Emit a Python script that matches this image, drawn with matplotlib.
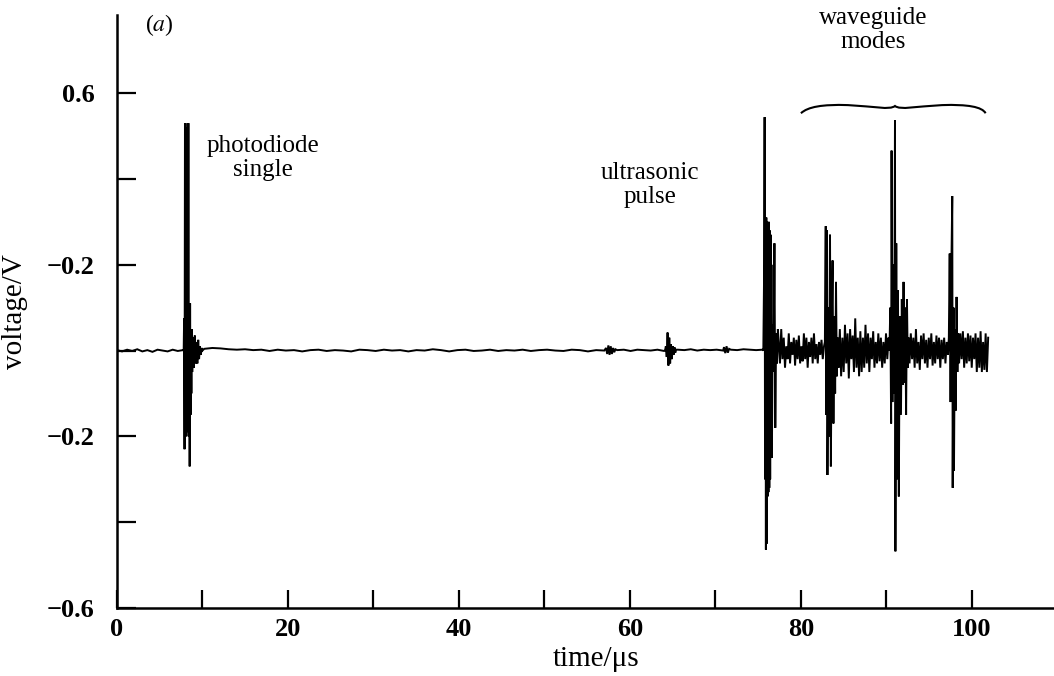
import numpy as np
import matplotlib
matplotlib.use("Agg")
import matplotlib.pyplot as plt
from matplotlib.path import Path
from matplotlib.patches import PathPatch

plt.rcParams['font.family'] = ['Liberation Serif', 'DejaVu Serif']
plt.rcParams['mathtext.fontset'] = 'stix'

# ---- data ----
base1_v = [0.001, -0.002, 0.002, -0.001, 0.003, -0.002, 0.001, -0.003, 0.002, 0.000, -0.002, 0.002, -0.001, 0.001]
base1_span = (0.0, 7.7)

pd_t = [7.8, 7.85, 7.9, 7.95, 8.0, 8.05, 8.1, 8.15, 8.2, 8.25, 8.3, 8.35, 8.4, 8.45, 8.5, 8.55, 8.6,
        8.65, 8.7, 8.75, 8.8, 8.9, 9.0, 9.1, 9.2, 9.3, 9.4, 9.5, 9.6, 9.7, 9.8, 9.9, 10.0]
pd_v = [0.0, 0.075, -0.23, 0.53, -0.19, 0.52, -0.2, 0.5, -0.19, 0.53, -0.18, 0.53, -0.2, 0.1, -0.27, 0.11, -0.15,
        0.04, -0.1, 0.05, -0.05, 0.03, -0.04, 0.035, -0.03, 0.02, -0.03, 0.025, -0.02, 0.01, -0.01, 0.006, 0.0]

base2_v = [0.004, 0.006, 0.005, 0.003, 0.002, 0.003, 0.001, 0.002, -0.001, 0.002, 0.000, 0.001, -0.002, 0.001,
           0.002, -0.001, 0.001, 0.000, -0.002, 0.002, 0.001, -0.001, 0.002, 0.000, 0.001, -0.002, 0.001, 0.000,
           0.003, 0.001, -0.002, 0.001, 0.002, -0.001, 0.000, 0.002, -0.001, 0.001, 0.000, 0.002, -0.001, 0.001,
           0.002, 0.000, -0.001, 0.002, 0.001, -0.002, 0.001, 0.000]
base2_span = (10.2, 57.0)

blip1_v = [0.006, -0.008, 0.012, -0.01, 0.01, -0.008, 0.006, -0.004, 0.003]
blip1_span = (57.2, 58.3)
base3_v = [0.001, 0.002, -0.001, 0.002, 0.001, 0.000, 0.002, -0.001]
base3_span = (58.5, 64.0)
blip2_t = [64.1, 64.2, 64.3, 64.4, 64.5, 64.6, 64.7, 64.8, 64.9, 65.0, 65.1, 65.2, 65.3, 65.4]
blip2_v = [0.0, 0.01, -0.015, 0.042, -0.035, 0.03, -0.03, 0.015, -0.02, 0.01, -0.01, 0.008, -0.005, 0.002]
base4_v = [0.002, 0.001, 0.003, 0.000, 0.002, 0.001, 0.002, 0.000]
base4_span = (65.6, 70.9)
blip3_v = [0.008, -0.006, 0.01, -0.005, 0.004]
blip3_span = (71.0, 71.6)
base5_v = [0.002, 0.001, 0.003, 0.002, 0.001, 0.002]
base5_span = (71.8, 75.5)

w1_t = [75.6, 75.7, 75.75, 75.8, 75.85, 75.9, 75.95, 76.0, 76.05, 76.1, 76.15, 76.2, 76.25, 76.3,
        76.35, 76.4, 76.45, 76.5, 76.55, 76.6, 76.7, 76.8, 76.9, 77.0, 77.1, 77.2, 77.3]
w1_v = [0.0, 0.2, 0.544, -0.3, 0.3, -0.464, 0.31, -0.45, 0.3, -0.34, 0.29, -0.33, 0.3, -0.32,
        0.28, -0.3, 0.27, -0.22, 0.2, -0.25, 0.06, -0.05, 0.25, -0.18, 0.04, -0.03, 0.05]

noise_a_v = [0.02, -0.03, 0.05, -0.02, 0.03, -0.04, 0.01, -0.02, 0.04, -0.03, 0.02, -0.01, 0.03, -0.035, 0.025,
             -0.02, 0.035, -0.03, 0.01, -0.025, 0.04, -0.02, 0.03, -0.04, 0.02, -0.015, 0.03, -0.03, 0.04, -0.02,
             0.015, -0.03, 0.02, -0.01, 0.025, -0.02, 0.01]
noise_a_span = (77.4, 82.7)

w2_t = [82.8, 82.9, 82.95, 83.05, 83.1, 83.2, 83.3, 83.4, 83.5, 83.6, 83.7, 83.8, 83.9, 84.0, 84.1, 84.2, 84.3]
w2_v = [0.02, 0.29, -0.15, 0.28, -0.29, 0.1, -0.2, 0.27, -0.27, 0.05, 0.21, -0.17, 0.08, -0.1, 0.16, -0.06, 0.03]

noise_b_v = [-0.04, 0.05, -0.06, 0.03, -0.05, 0.06, -0.03, 0.04, -0.065, 0.05, -0.02, 0.035, -0.05, 0.075, -0.04,
             0.03, -0.06, 0.045, -0.05, 0.03, -0.04, 0.06, -0.03, 0.04, -0.05, 0.03, -0.02, 0.045, -0.04, 0.02,
             -0.03, 0.04, -0.025, 0.03, -0.04, 0.02, -0.03, 0.04, -0.02, 0.03]
noise_b_span = (84.4, 90.25)

w3_t = [90.35, 90.45, 90.55, 90.6, 90.7, 90.8, 90.9, 91.0, 91.05, 91.15, 91.25, 91.35, 91.45, 91.55,
        91.7, 91.8, 91.9, 92.0, 92.1, 92.2, 92.3, 92.4, 92.5, 92.6]
w3_v = [0.0, 0.1, -0.17, 0.466, -0.12, 0.2, -0.1, 0.537, -0.468, 0.25, -0.3, 0.14, -0.34, 0.08,
        -0.15, 0.12, -0.08, 0.16, -0.075, 0.1, -0.15, 0.12, -0.04, 0.03]

noise_c_v = [-0.03, 0.04, -0.02, 0.03, -0.04, 0.05, -0.03, 0.02, -0.045, 0.035, -0.02, 0.04, -0.03, 0.025, -0.04,
             0.03, -0.02, 0.04, -0.035, 0.02, -0.03, 0.035, -0.02, 0.03, -0.04, 0.025, -0.02, 0.03, -0.03, 0.02, -0.01]
noise_c_span = (92.7, 97.2)

w4_t = [97.3, 97.4, 97.5, 97.6, 97.7, 97.75, 97.85, 97.9, 98.0, 98.1, 98.2, 98.3, 98.4]
w4_v = [0.03, 0.226, -0.12, 0.2, 0.36, -0.32, 0.1, -0.28, 0.05, -0.14, 0.125, -0.05, 0.04]

noise_d_v = [-0.03, 0.04, -0.02, 0.045, -0.04, 0.03, -0.03, 0.04, -0.025, 0.035, -0.04, 0.03, -0.02, 0.04,
             -0.05, 0.03, -0.04, 0.045, -0.05, 0.02, -0.045, 0.04, -0.05, 0.03]
noise_d_span = (98.5, 101.9)

xticks = [0, 10, 20, 30, 40, 50, 60, 70, 80, 90, 100]
xtick_labels = ['0', '', '20', '', '40', '', '60', '', '80', '', '100']
yticks = [0.6, 0.4, 0.2, 0.0, -0.2, -0.4, -0.6]
ytick_labels = ['0.6', '', '\u22120.2', '', '\u22120.2', '', '\u22120.6']


def grid(span, vals):
    return list(np.linspace(span[0], span[1], len(vals)))


segments = [
    (grid(base1_span, base1_v), base1_v),
    (pd_t, pd_v),
    (grid(base2_span, base2_v), base2_v),
    (grid(blip1_span, blip1_v), blip1_v),
    (grid(base3_span, base3_v), base3_v),
    (blip2_t, blip2_v),
    (grid(base4_span, base4_v), base4_v),
    (grid(blip3_span, blip3_v), blip3_v),
    (grid(base5_span, base5_v), base5_v),
    (w1_t, w1_v),
    (grid(noise_a_span, noise_a_v), noise_a_v),
    (w2_t, w2_v),
    (grid(noise_b_span, noise_b_v), noise_b_v),
    (w3_t, w3_v),
    (grid(noise_c_span, noise_c_v), noise_c_v),
    (w4_t, w4_v),
    (grid(noise_d_span, noise_d_v), noise_d_v),
]
t_all = np.concatenate([np.asarray(s[0], float) for s in segments])
v_all = np.concatenate([np.asarray(s[1], float) for s in segments])

fig = plt.figure(figsize=(10.54, 6.76), dpi=100)
ax = fig.add_axes([117 / 1054, 1 - 608 / 676, 1 - 117 / 1054, (608 - 15) / 676])
ax.plot(t_all, v_all, color='black', lw=1.4, solid_joinstyle='miter')
ax.set_xlim(0, 109.6)
ax.set_ylim(-0.6, 0.782)

for s in ['top', 'right']:
    ax.spines[s].set_visible(False)
for s in ['left', 'bottom']:
    ax.spines[s].set_linewidth(1.8)

ax.set_yticks(yticks)
ax.set_yticklabels(ytick_labels, fontweight='bold', fontsize=19)
ax.tick_params(axis='y', direction='in', length=14, width=1.6, pad=16)
ax.set_xticks(xticks)
ax.set_xticklabels(xtick_labels, fontweight='bold', fontsize=19)
ax.tick_params(axis='x', direction='in', length=13, width=1.6, pad=7)

ax.set_xlabel('time/\u03bcs', fontsize=21)
ax.set_ylabel('voltage/V', fontsize=21)
ax.xaxis.set_label_coords(0.511, -0.064)
ax.yaxis.set_label_coords(-0.095, 0.5)

ax.text(5.0, 0.759, '($a$)', fontsize=17, ha='center', va='center')
ax.text(17.1, 0.449, 'photodiode\nsingle', fontsize=18, ha='center', va='center', linespacing=1.1)
ax.text(62.3, 0.386, 'ultrasonic\npulse', fontsize=18, ha='center', va='center', linespacing=1.1)
ax.text(88.5, 0.747, 'waveguide\nmodes', fontsize=18, ha='center', va='center', linespacing=1.1)

verts = [(80.0, 0.553),
         (80.8, 0.568), (82.5, 0.574), (85.5, 0.572),
         (88.5, 0.569), (90.4, 0.560), (91.0, 0.570),
         (91.6, 0.560), (93.5, 0.569), (96.5, 0.572),
         (99.5, 0.574), (101.2, 0.568), (101.6, 0.553)]
codes = [Path.MOVETO] + [Path.CURVE4] * 12
ax.add_patch(PathPatch(Path(verts, codes), fill=False, lw=1.5, color='black', clip_on=False))

fig.savefig('out.png', dpi=100)
